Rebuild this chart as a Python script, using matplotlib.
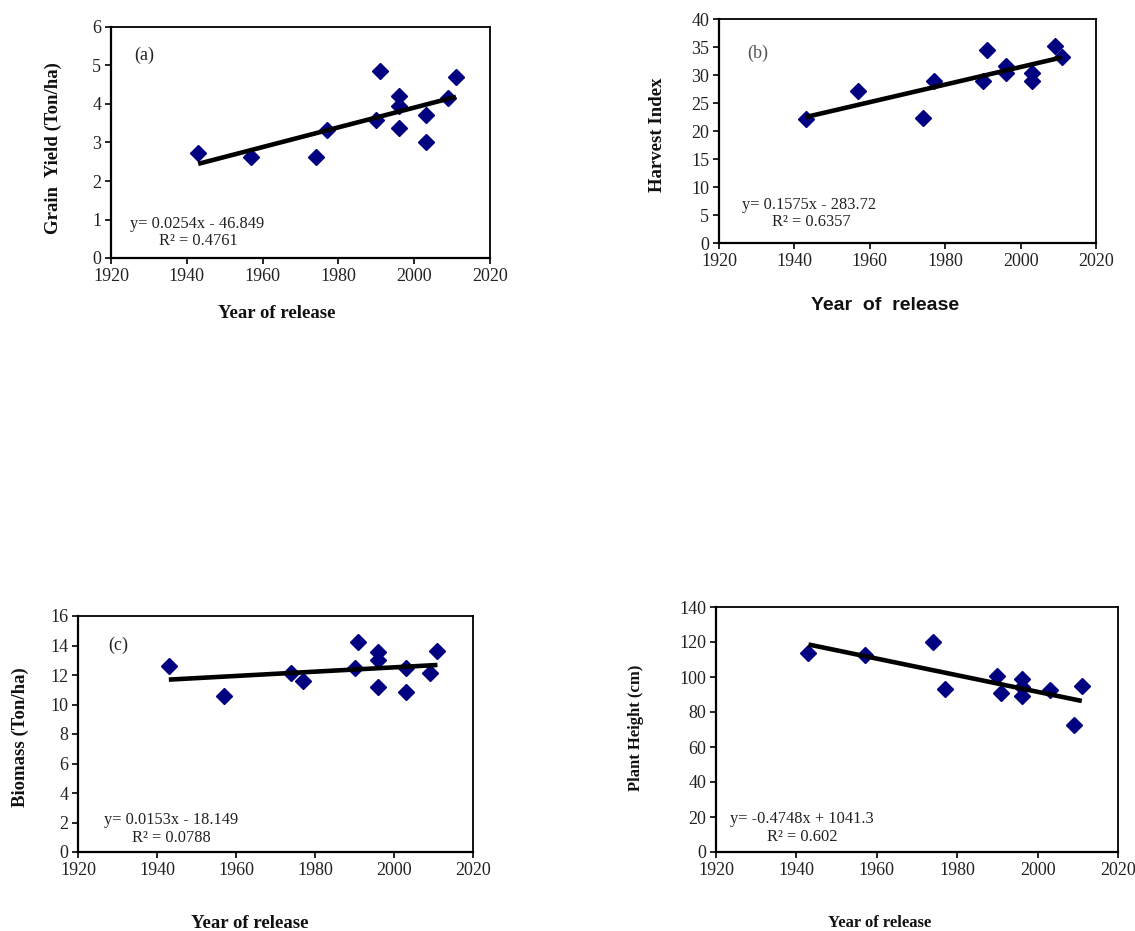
import matplotlib
matplotlib.use("Agg")
import matplotlib.pyplot as plt
import numpy as np

# ---------------- data ----------------
years_a = [1943, 1957, 1974, 1977, 1990, 1991, 1996, 1996, 1996, 2003, 2003, 2009, 2011]
grain_yield = [2.72, 2.62, 2.62, 3.32, 3.58, 4.85, 4.21, 3.95, 3.37, 3.72, 3.02, 4.15, 4.70]

years_b = [1943, 1957, 1974, 1977, 1990, 1991, 1996, 1996, 2003, 2003, 2009, 2011]
harvest_index = [22.1, 27.1, 22.3, 29.0, 28.9, 34.5, 31.6, 30.3, 30.3, 29.0, 35.2, 33.3]

years_c = [1943, 1957, 1974, 1977, 1990, 1991, 1996, 1996, 1996, 2003, 2003, 2009, 2011]
biomass = [12.6, 10.55, 12.12, 11.62, 12.48, 14.26, 13.55, 13.02, 11.2, 12.5, 10.84, 12.16, 13.6]

years_d = [1943, 1957, 1974, 1977, 1990, 1991, 1996, 1996, 1996, 2003, 2009, 2011]
plant_height = [113.8, 112.5, 119.8, 93.3, 100.8, 90.8, 98.6, 94.4, 89.4, 92.3, 72.5, 94.6]

eq_texts = ["y= 0.0254x - 46.849", "y= 0.1575x - 283.72", "y= 0.0153x - 18.149", "y= -0.4748x + 1041.3"]
r2_texts = ["R² = 0.4761", "R² = 0.6357", "R² = 0.0788", "R² = 0.602"]
panel_tags = ["(a)", "(b)", "(c)", "(d)"]
ylabels = ["Grain  Yield (Ton/ha)", "Harvest Index", "Biomass (Ton/ha)", "Plant Height (cm)"]
xlabel_text = ["Year of release", "Year  of  release", "Year of release", "Year of release"]
y_limits = [(0, 6), (0, 40), (0, 16), (0, 140)]
y_steps = [1, 5, 2, 20]
x_ticks = [1920, 1940, 1960, 1980, 2000, 2020]

# ---------------- layout ----------------
W, H = 1135, 931
fig = plt.figure(figsize=(W / 100, H / 100), dpi=100)
fig.patch.set_facecolor("white")

def rect(l, r, t, b):
    return [l / W, 1 - b / H, (r - l) / W, (b - t) / H]

def ftext(x, y, s, **kw):
    fig.text(x / W, 1 - y / H, s, **kw)

SERIF = "Liberation Serif"
SANS = "Liberation Sans"

panels = [
    dict(rect=rect(111, 490, 27, 258), x=years_a, y=grain_yield,
         tag=(134, 55), eq=(130, 224), r2=(159, 241), yl=(53, 148), xl=(277, 313),
         ylsize=13.5, xlsize=13.5, xlfont=SERIF, tagcolor="#222222"),
    dict(rect=rect(719, 1096, 19, 243), x=years_b, y=harvest_index,
         tag=(747, 53), eq=(742, 205), r2=(772, 222), yl=(658, 135), xl=(885, 305),
         ylsize=13.5, xlsize=14, xlfont=SANS, tagcolor="#555555"),
    dict(rect=rect(78, 473, 616, 852), x=years_c, y=biomass,
         tag=(108, 645), eq=(104, 820), r2=(132, 838), yl=(20, 737), xl=(250, 923),
         ylsize=13.5, xlsize=13.5, xlfont=SERIF, tagcolor="#222222"),
    dict(rect=rect(716, 1118, 607, 852), x=years_d, y=plant_height,
         tag=None, eq=(730, 819), r2=(767, 837), yl=(636, 728), xl=(880, 923),
         ylsize=12, xlsize=12, xlfont=SERIF, tagcolor="#222222"),
]

for i, p in enumerate(panels):
    ax = fig.add_axes(p["rect"])
    xs = np.array(p["x"], dtype=float)
    ys = np.array(p["y"], dtype=float)
    ax.plot(xs, ys, linestyle="none", marker="D", markersize=7.8,
            color="#000080", markeredgecolor="#000080", zorder=3)
    # linear trend line through the data
    k, c = np.polyfit(xs, ys, 1)
    xt = np.array([xs.min(), xs.max()])
    ax.plot(xt, k * xt + c, color="black", linewidth=3.3, solid_capstyle="butt", zorder=4)

    ax.set_xlim(1920, 2020)
    ax.set_ylim(*y_limits[i])
    ax.set_xticks(x_ticks)
    ax.set_yticks(np.arange(y_limits[i][0], y_limits[i][1] + 0.001, y_steps[i]))
    ax.tick_params(direction="out", length=4, width=1.2, labelsize=13, pad=3,
                   colors="black")
    for lab in ax.get_xticklabels() + ax.get_yticklabels():
        lab.set_fontfamily(SERIF)
        lab.set_color("#222222")
    for side, sp in ax.spines.items():
        sp.set_color("black")
        sp.set_linewidth(1.6 if side in ("left", "bottom") else 1.3)

    if p["tag"] is not None:
        ftext(p["tag"][0], p["tag"][1], panel_tags[i], fontsize=13, family=SERIF,
              color=p["tagcolor"], va="center", ha="left")
    ftext(p["eq"][0], p["eq"][1], eq_texts[i], fontsize=11.8, family=SERIF,
          color="#222222", va="center", ha="left")
    ftext(p["r2"][0], p["r2"][1], r2_texts[i], fontsize=11.8, family=SERIF,
          color="#222222", va="center", ha="left")
    ftext(p["yl"][0], p["yl"][1], ylabels[i], fontsize=p["ylsize"], family=SERIF,
          fontweight="bold", rotation=90, va="center", ha="center", color="#111111")
    ftext(p["xl"][0], p["xl"][1], xlabel_text[i], fontsize=p["xlsize"], family=p["xlfont"],
          fontweight="bold", va="center", ha="center", color="#111111")

fig.savefig("out.png", dpi=100, facecolor="white")
